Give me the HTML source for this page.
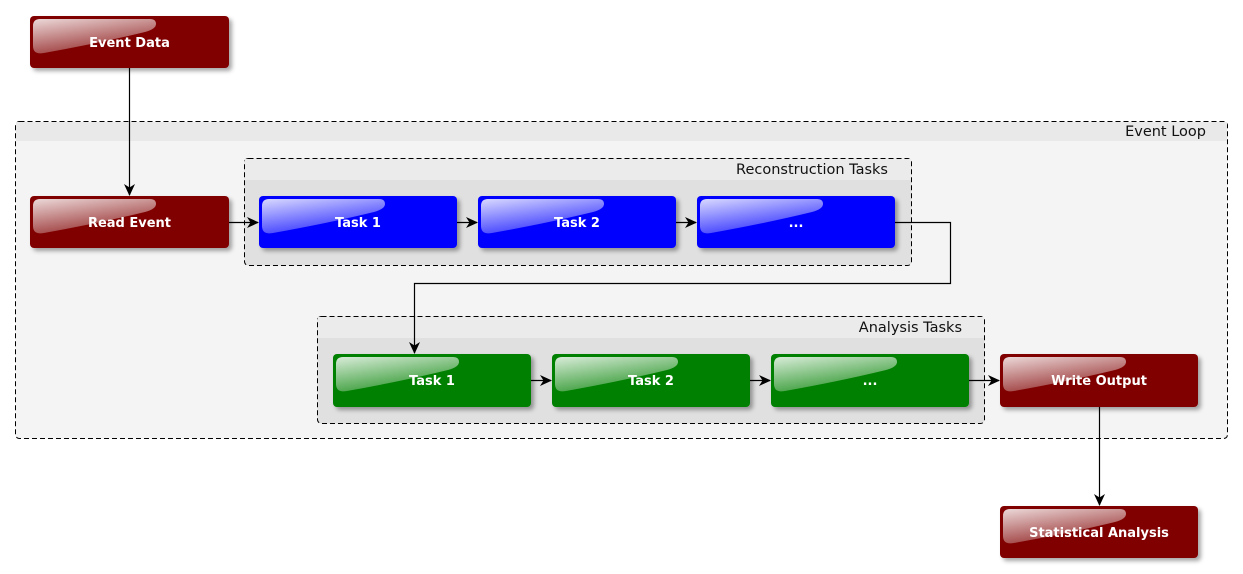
<!DOCTYPE html>
<html><head><meta charset="utf-8"><style>
html,body{margin:0;padding:0;background:#fff;width:1243px;height:574px;overflow:hidden}
svg{display:block}
.n{font-family:"DejaVu Sans","Liberation Sans",sans-serif;font-size:13px;font-weight:bold;fill:#fff}
.h{font-family:"DejaVu Sans","Liberation Sans",sans-serif;font-size:14.5px;fill:#111}
</style></head><body>
<svg width="1243" height="574" viewBox="0 0 1243 574" xmlns="http://www.w3.org/2000/svg">
<defs>
<linearGradient id="g" x1="0" y1="0" x2="0.5" y2="1">
<stop offset="0" stop-color="#fff" stop-opacity="0.85"/>
<stop offset="1" stop-color="#fff" stop-opacity="0.2"/>
</linearGradient>
<filter id="s" x="-10%" y="-20%" width="130%" height="160%">
<feDropShadow dx="3" dy="3" stdDeviation="2" flood-color="#000" flood-opacity="0.35"/>
</filter>
<marker id="a" markerWidth="12" markerHeight="12" refX="11" refY="6" orient="auto" markerUnits="userSpaceOnUse">
<path d="M0,0.5 L12,6 L0,11.5 L3.5,6 Z" fill="#000"/>
</marker>
</defs>

<!-- Event Loop -->
<rect x="15.5" y="121.5" width="1212" height="317" rx="4" fill="#f4f4f4" stroke="#000" stroke-dasharray="5,3"/>
<rect x="16" y="122" width="1211" height="19" fill="#e9e9e9"/>
<text class="h" x="1206" y="136" text-anchor="end">Event Loop</text>

<!-- Reconstruction -->
<rect x="244.5" y="158.5" width="667" height="107" rx="4" fill="#e0e0e0" stroke="#000" stroke-dasharray="5,3"/>
<rect x="245" y="159" width="666" height="21" fill="#ebebeb"/>
<text class="h" x="888" y="174" text-anchor="end">Reconstruction Tasks</text>

<!-- Analysis -->
<rect x="317.5" y="316.5" width="667" height="107" rx="4" fill="#e0e0e0" stroke="#000" stroke-dasharray="5,3"/>
<rect x="318" y="317" width="666" height="21" fill="#ebebeb"/>
<text class="h" x="962" y="332" text-anchor="end">Analysis Tasks</text>

<!-- connectors -->
<g stroke="#000" stroke-width="1.2" fill="none">
<path d="M129.5,68 V195" marker-end="url(#a)"/>
<path d="M229,222.5 H258" marker-end="url(#a)"/>
<path d="M457,222.5 H477" marker-end="url(#a)"/>
<path d="M676,222.5 H696" marker-end="url(#a)"/>
<path d="M895,222.5 H950.5 V283.5 H414.5 V353" marker-end="url(#a)"/>
<path d="M531,380.5 H551" marker-end="url(#a)"/>
<path d="M750,380.5 H770" marker-end="url(#a)"/>
<path d="M969,380.5 H999" marker-end="url(#a)"/>
<path d="M1099.5,407 V505" marker-end="url(#a)"/>
</g>

<!-- nodes -->
<g filter="url(#s)">
<rect x="30" y="16" width="199" height="52" rx="4" fill="#800000"/>
<rect x="30" y="196" width="199" height="52" rx="4" fill="#800000"/>
<rect x="259" y="196" width="198" height="52" rx="4" fill="#0000ff"/>
<rect x="478" y="196" width="198" height="52" rx="4" fill="#0000ff"/>
<rect x="697" y="196" width="198" height="52" rx="4" fill="#0000ff"/>
<rect x="333" y="354" width="198" height="53" rx="4" fill="#008000"/>
<rect x="552" y="354" width="198" height="53" rx="4" fill="#008000"/>
<rect x="771" y="354" width="198" height="53" rx="4" fill="#008000"/>
<rect x="1000" y="354" width="198" height="53" rx="4" fill="#800000"/>
<rect x="1000" y="506" width="198" height="52" rx="4" fill="#800000"/>
</g>
<g fill="url(#g)">
<path transform="translate(30,16)" d="M3,10 Q3,3 10,3 H120 Q126,3 126,8 Q126,13 115,16 Q70,27 14,37 Q3,39 3,30 Z"/>
<path transform="translate(30,196)" d="M3,10 Q3,3 10,3 H120 Q126,3 126,8 Q126,13 115,16 Q70,27 14,37 Q3,39 3,30 Z"/>
<path transform="translate(259,196)" d="M3,10 Q3,3 10,3 H120 Q126,3 126,8 Q126,13 115,16 Q70,27 14,37 Q3,39 3,30 Z"/>
<path transform="translate(478,196)" d="M3,10 Q3,3 10,3 H120 Q126,3 126,8 Q126,13 115,16 Q70,27 14,37 Q3,39 3,30 Z"/>
<path transform="translate(697,196)" d="M3,10 Q3,3 10,3 H120 Q126,3 126,8 Q126,13 115,16 Q70,27 14,37 Q3,39 3,30 Z"/>
<path transform="translate(333,354)" d="M3,10 Q3,3 10,3 H120 Q126,3 126,8 Q126,13 115,16 Q70,27 14,37 Q3,39 3,30 Z"/>
<path transform="translate(552,354)" d="M3,10 Q3,3 10,3 H120 Q126,3 126,8 Q126,13 115,16 Q70,27 14,37 Q3,39 3,30 Z"/>
<path transform="translate(771,354)" d="M3,10 Q3,3 10,3 H120 Q126,3 126,8 Q126,13 115,16 Q70,27 14,37 Q3,39 3,30 Z"/>
<path transform="translate(1000,354)" d="M3,10 Q3,3 10,3 H120 Q126,3 126,8 Q126,13 115,16 Q70,27 14,37 Q3,39 3,30 Z"/>
<path transform="translate(1000,506)" d="M3,10 Q3,3 10,3 H120 Q126,3 126,8 Q126,13 115,16 Q70,27 14,37 Q3,39 3,30 Z"/>
</g>

<g class="n" text-anchor="middle">
<text x="129.5" y="47">Event Data</text>
<text x="129.5" y="227">Read Event</text>
<text x="358" y="227">Task 1</text>
<text x="577" y="227">Task 2</text>
<text x="796" y="227">...</text>
<text x="432" y="385">Task 1</text>
<text x="651" y="385">Task 2</text>
<text x="870" y="385">...</text>
<text x="1099" y="385">Write Output</text>
<text x="1099" y="537">Statistical Analysis</text>
</g>
</svg>
</body></html>
